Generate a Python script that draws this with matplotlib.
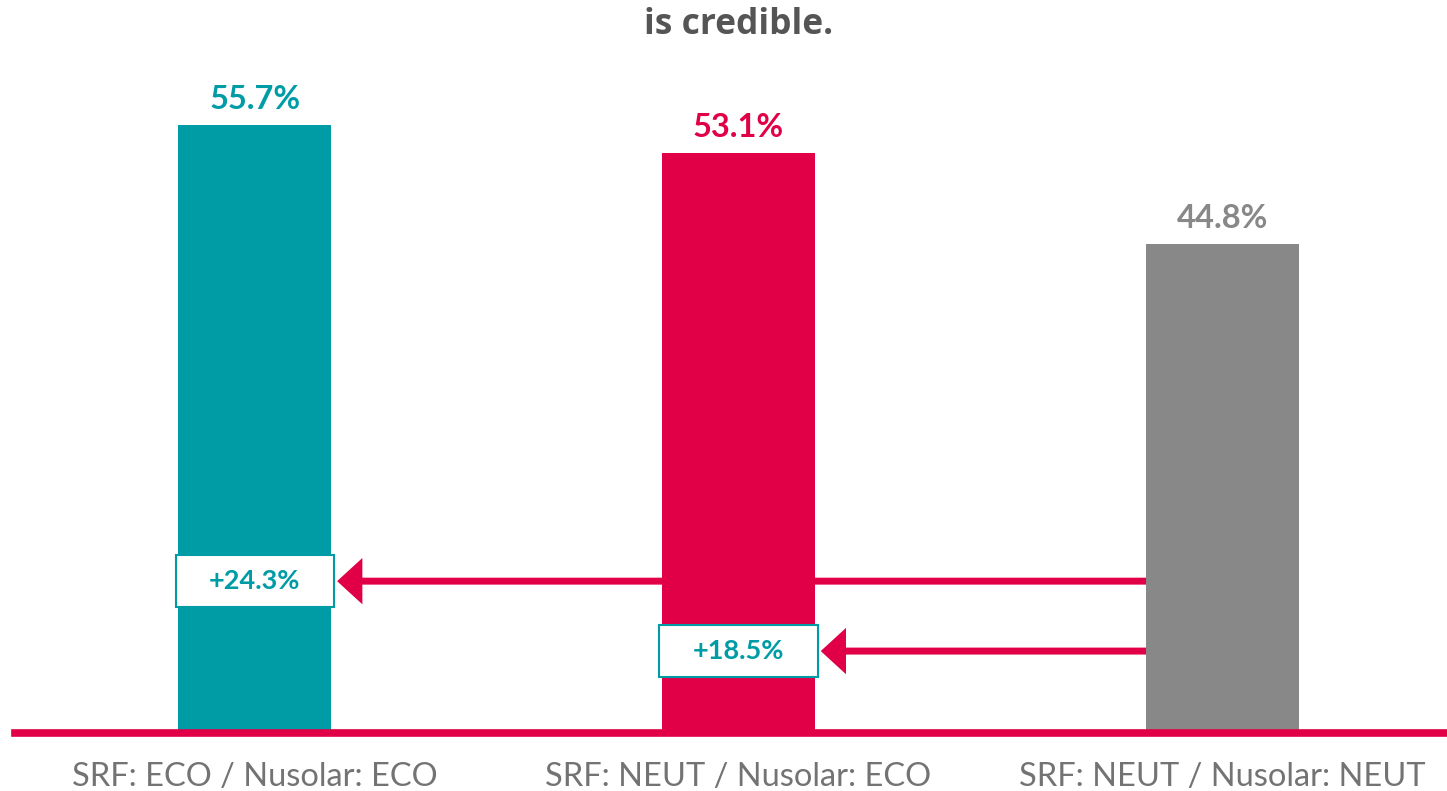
import matplotlib
matplotlib.use('Agg')
from matplotlib import pyplot as plt
from matplotlib.patches import FancyArrowPatch, Rectangle

# data
categories = ['SRF: ECO / Nusolar: ECO', 'SRF: NEUT / Nusolar: ECO', 'SRF: NEUT / Nusolar: NEUT']
values = [55.7, 53.1, 44.8]
uplift_labels = ['+24.3%', '+18.5%']
uplift_targets = [0, 1]       # bar the arrow points to (from the last bar)
uplift_levels = [13.9, 7.5]   # height of the arrow

TEAL = '#009ca6'
RED = '#e10047'
GREY = '#888888'
bar_colors = [TEAL, RED, GREY]

plt.rcParams['font.family'] = ['Lato', 'DejaVu Sans']

W, H = 1447, 791
fig = plt.figure(figsize=(W / 100, H / 100), dpi=100)
ax = fig.add_axes([15 / W, (H - 733) / H, 1 - 15 / W, 733 / H])

x = list(range(len(values)))
bar_w = 0.316
ax.bar(x, values, width=bar_w, color=bar_colors, zorder=2)
ax.set_xlim(-0.496, 2.465)
ax.set_ylim(0, 67.1)

for xi, v, c in zip(x, values, bar_colors):
    ax.text(xi, v + 1.0, '%.1f%%' % v, ha='center', va='bottom',
            fontsize=23.5, fontweight='bold', color=c)

# arrows from the last bar to the others, with uplift boxes
src = x[-1] - bar_w / 2
box_w, box_h = 0.328, 4.7
for lab, t, lvl in zip(uplift_labels, uplift_targets, uplift_levels):
    tip = t + box_w / 2 + 0.006
    arr = FancyArrowPatch((src + 0.02, lvl), (tip, lvl),
                          arrowstyle='-|>,head_length=12,head_width=11',
                          mutation_scale=1, color=RED, lw=5,
                          joinstyle='miter', capstyle='butt',
                          shrinkA=0, shrinkB=0, zorder=1)
    ax.add_patch(arr)
    ax.add_patch(Rectangle((t - box_w / 2, lvl - box_h / 2), box_w, box_h,
                           facecolor='white', edgecolor=TEAL, lw=1.5, zorder=3))
    ax.text(t, lvl, lab, ha='center', va='center', fontsize=19.5,
            fontweight='bold', color=TEAL, zorder=4)

ax.axhline(0, color=RED, lw=5.5, clip_on=False, zorder=5)

ax.set_xticks(x)
ax.set_xticklabels(categories, fontsize=23.5, fontweight='normal', color='#737373')
ax.tick_params(axis='x', length=0, pad=21)
ax.set_yticks([])
for s in ax.spines.values():
    s.set_visible(False)

fig.text(739 / W, 1 - 25 / H, 'is credible.', ha='center', va='center',
         fontsize=25.5, fontweight='bold', color='#555555',
         family=['Open Sans', 'DejaVu Sans'])

fig.savefig('out.png', dpi=100)
